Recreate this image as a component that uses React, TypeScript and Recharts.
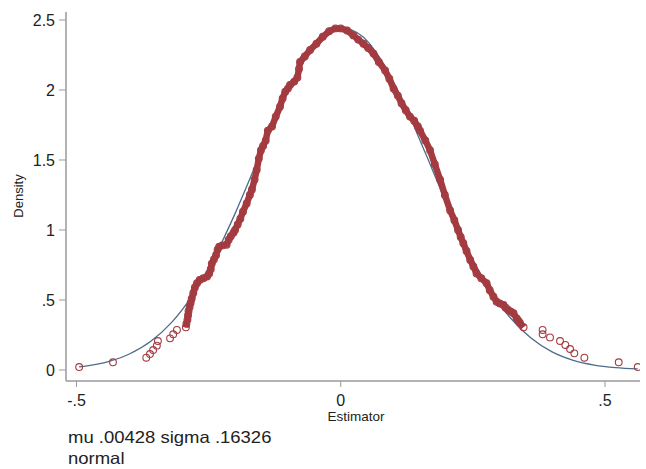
import { ComposedChart, Line, Scatter, XAxis, YAxis } from 'recharts';

const RED = '#a33b41';
const NAVY = '#4d6c8c';
const AXIS = '#9a9a9a';

// normal overlay (mu .00428, sigma .16326)
const normalX = [-0.495, -0.48, -0.44, -0.4, -0.36, -0.32, -0.28, -0.24, -0.2, -0.16, -0.12, -0.08, -0.04, 0,
  0.04, 0.08, 0.12, 0.16, 0.2, 0.24, 0.28, 0.32, 0.36, 0.4, 0.44, 0.48, 0.52, 0.562];
const normalY = [0.023, 0.03, 0.06, 0.114, 0.203, 0.34, 0.537, 0.798, 1.117, 1.473, 1.829, 2.139, 2.355, 2.443,
  2.386, 2.194, 1.901, 1.551, 1.191, 0.862, 0.587, 0.377, 0.228, 0.129, 0.069, 0.035, 0.017, 0.008];

// kernel density at each estimate – dense middle part
const kdeX = [-0.293, -0.292, -0.29, -0.289, -0.288, -0.286, -0.284, -0.282, -0.279, -0.276, -0.272, -0.267, -0.26,
  -0.253, -0.249, -0.246, -0.244, -0.24, -0.236, -0.233, -0.23, -0.224, -0.216, -0.212, -0.208, -0.203, -0.2,
  -0.195, -0.19, -0.185, -0.178, -0.172, -0.168, -0.163, -0.159, -0.155, -0.151, -0.147, -0.142, -0.138, -0.13,
  -0.123, -0.115, -0.11, -0.105, -0.1, -0.096, -0.088, -0.082, -0.079, -0.077, -0.068, -0.058, -0.046, -0.034,
  -0.022, -0.01, 0, 0.012, 0.024, 0.033, 0.043, 0.052, 0.062, 0.072, 0.084, 0.092, 0.1, 0.108, 0.115, 0.123, 0.131,
  0.139, 0.146, 0.15, 0.16, 0.169, 0.178, 0.188, 0.197, 0.207, 0.215, 0.222, 0.227, 0.232, 0.238, 0.245, 0.251,
  0.257, 0.266, 0.276, 0.282, 0.289, 0.295, 0.301, 0.308, 0.312, 0.317, 0.322, 0.327, 0.333, 0.336, 0.339, 0.346];
const kdeY = [0.305, 0.33, 0.36, 0.39, 0.42, 0.45, 0.48, 0.51, 0.55, 0.59, 0.62, 0.643, 0.655,
  0.667, 0.69, 0.72, 0.76, 0.79, 0.82, 0.86, 0.88, 0.89, 0.895, 0.93, 0.955, 0.98, 1.0,
  1.04, 1.08, 1.13, 1.19, 1.25, 1.29, 1.36, 1.43, 1.51, 1.57, 1.6, 1.64, 1.71, 1.74,
  1.81, 1.88, 1.94, 1.988, 2.01, 2.036, 2.06, 2.09, 2.15, 2.2, 2.24, 2.286, 2.33, 2.38,
  2.42, 2.44, 2.44, 2.425, 2.39, 2.36, 2.33, 2.3, 2.26, 2.2, 2.14, 2.08, 2.01, 1.96, 1.905, 1.855, 1.81,
  1.78, 1.74, 1.71, 1.64, 1.57, 1.47, 1.36, 1.25, 1.14, 1.07, 1.0, 0.95, 0.905, 0.85, 0.786, 0.74,
  0.69, 0.655, 0.62, 0.57, 0.524, 0.488, 0.475, 0.464, 0.445, 0.429, 0.417, 0.405, 0.369, 0.353, 0.338, 0.305];

// sparse tails
const tailX = [-0.495, -0.431, -0.368, -0.361, -0.355, -0.348, -0.346, -0.323, -0.317, -0.31,
  0.382, 0.382, 0.396, 0.415, 0.425, 0.434, 0.442, 0.461, 0.526, 0.562];
const tailY = [0.021, 0.055, 0.088, 0.114, 0.143, 0.174, 0.207, 0.226, 0.255, 0.286,
  0.286, 0.255, 0.233, 0.207, 0.179, 0.15, 0.119, 0.088, 0.055, 0.021];

const xTicks = [-0.5, 0, 0.5];
const yTicks = [0, 0.5, 1, 1.5, 2, 2.5];

const normalData = normalX.map((x, i) => ({ x, y: normalY[i] }));
const kdeData = kdeX.map((x, i) => ({ x, y: kdeY[i] }));
const tailData = tailX.map((x, i) => ({ x, y: tailY[i] }));

// Stata style numbers: .5 instead of 0.5
const fmt = (v: number) => (v === 0 ? '0' : String(v).replace(/^(-?)0\./, '$1.'));

const Hollow = (props: any) => (
  <circle cx={props.cx} cy={props.cy} r={3.4} fill="none" stroke={RED} strokeWidth={1.1} />
);

const note = {
  position: 'absolute' as const,
  left: 68,
  fontSize: 16.5,
  lineHeight: '14px',
  whiteSpace: 'nowrap' as const,
  transform: 'scaleX(1.12)',
  transformOrigin: 'left center',
};

export default function App() {
  return (
    <div
      style={{
        position: 'absolute',
        left: 0,
        top: 0,
        width: 646,
        height: 469,
        overflow: 'hidden',
        background: '#fff',
        fontFamily: '"Liberation Sans", Arial, sans-serif',
        color: '#222',
      }}
    >
      <ComposedChart width={646} height={469} margin={{ top: 12, right: 6, bottom: 43, left: 0 }}>
        <XAxis
          type="number"
          dataKey="x"
          domain={[-0.5199, 0.5663]}
          ticks={xTicks}
          tickFormatter={fmt}
          allowDataOverflow
          height={45}
          axisLine={{ stroke: AXIS, strokeWidth: 1.5 }}
          tickLine={{ stroke: AXIS }}
          tickSize={6}
          tickMargin={8}
          tick={{ fontSize: 16, fill: '#222' }}
        />
        <YAxis
          type="number"
          dataKey="y"
          domain={[-0.0786, 2.5571]}
          ticks={yTicks}
          tickFormatter={fmt}
          allowDataOverflow
          width={66}
          axisLine={{ stroke: AXIS, strokeWidth: 1.5 }}
          tickLine={{ stroke: AXIS }}
          tickSize={7}
          tickMargin={4}
          tick={{ fontSize: 16, fill: '#222' }}
        />
        <Line
          data={normalData}
          dataKey="y"
          type="monotone"
          stroke={NAVY}
          strokeWidth={1.3}
          dot={false}
          isAnimationActive={false}
        />
        <Scatter
          data={kdeData}
          dataKey="y"
          line={{ stroke: RED, strokeWidth: 6.5 }}
          lineType="joint"
          shape={Hollow}
          isAnimationActive={false}
        />
        <Scatter data={tailData} dataKey="y" shape={Hollow} isAnimationActive={false} />
      </ComposedChart>

      <div
        style={{
          position: 'absolute',
          left: 17.5,
          top: 196,
          fontSize: 13,
          lineHeight: '13px',
          whiteSpace: 'nowrap',
          transform: 'translate(-50%, -50%) rotate(-90deg)',
        }}
      >
        Density
      </div>
      <div
        style={{
          position: 'absolute',
          left: 356,
          top: 410,
          fontSize: 13.5,
          lineHeight: '13.5px',
          transform: 'translateX(-50%)',
          whiteSpace: 'nowrap',
        }}
      >
        Estimator
      </div>
      <div style={{ ...note, top: 430 }}>mu .00428 sigma .16326</div>
      <div style={{ ...note, top: 451 }}>normal</div>
    </div>
  );
}
